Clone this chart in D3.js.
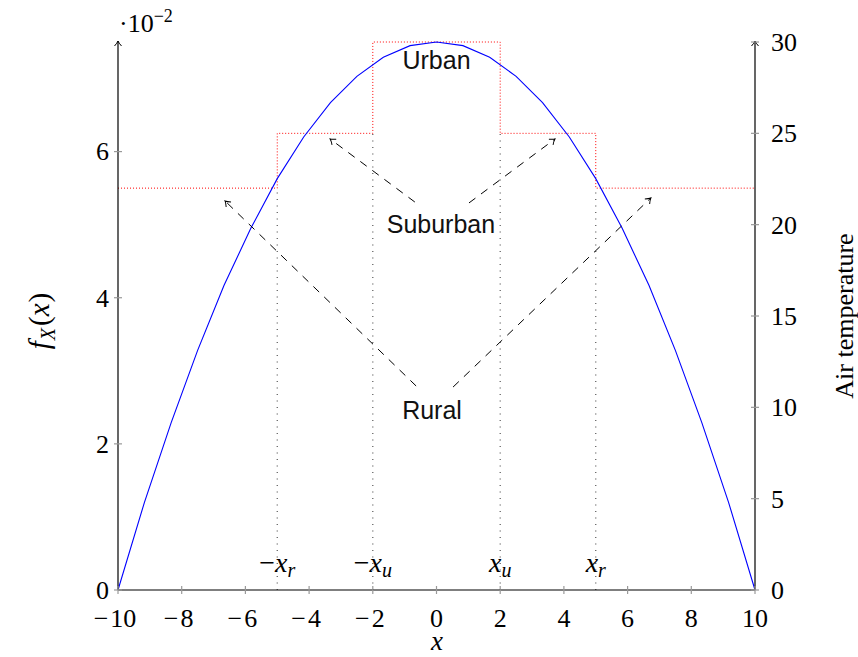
<!DOCTYPE html>
<html lang="en">
  <head>
    <meta charset="utf-8"/>
    <title>Density and air temperature</title>
    <script src="https://cdn.jsdelivr.net/npm/d3@7"></script>
    <style>
      body { margin: 0; background: #fff; }
      .serif { font-family: "Liberation Serif", "DejaVu Serif", serif; }
      .sans { font-family: "Liberation Sans", "DejaVu Sans", sans-serif; }
    </style>
  </head>
  <body>
    <div id="chart"></div>
    <script type="text/javascript">

      // density curve samples (x, f_X(x) in units of 10^-2)
      var curveX = [-10, -9.17, -8.33, -7.5, -6.67, -5.83, -5, -4.17, -3.33, -2.5, -1.67, -0.83, 0,
                    0.83, 1.67, 2.5, 3.33, 4.17, 5, 5.83, 6.67, 7.5, 8.33, 9.17, 10];
      var curveF = [0, 1.2, 2.29, 3.28, 4.17, 4.95, 5.63, 6.2, 6.67, 7.03, 7.29, 7.45, 7.5,
                    7.45, 7.29, 7.03, 6.67, 6.2, 5.63, 4.95, 4.17, 3.28, 2.29, 1.2, 0];

      // air temperature steps
      var stepX = [-10, -5, -2, 2, 5, 10];
      var stepT = [22, 25, 30, 25, 22];

      // boundary markers
      var markerX = [-5, -2, 2, 5];
      var markerTop = [22, 25, 25, 22];
      var markerSign = ["\u2212", "\u2212", "", ""];
      var markerSub = ["r", "u", "u", "r"];

      // ticks
      var xTicks = [-10, -8, -6, -4, -2, 0, 2, 4, 6, 8, 10];
      var fTicks = [0, 2, 4, 6];
      var tTicks = [0, 5, 10, 15, 20, 25, 30];

      // region labels (x, temperature)
      var regionNames = ["Urban", "Suburban", "Rural"];
      var regionX = [0, 0.14, -0.14];
      var regionT = [29, 20.05, 9.85];

      // arrows from labels (x, temperature)
      var arrowX1 = [-0.68, 1.02, -0.64, 0.52];
      var arrowT1 = [21.24, 21.19, 11.17, 11.11];
      var arrowX2 = [-3.34, 3.72, -6.64, 6.73];
      var arrowT2 = [24.69, 24.69, 21.3, 21.46];

      var width = 858, height = 657;
      // plot box (note: "top" is reserved on window, so use other names)
      var plotL = 118, plotR = 755, plotT = 42, plotB = 590;

      var svg = d3.select("#chart")
        .append("svg")
        .attr("width", width)
        .attr("height", height)
      ;

      var x = d3.scaleLinear().domain([-10, 10]).range([plotL, plotR]);
      var yF = d3.scaleLinear().domain([0, 7.5]).range([plotB, plotT]);
      var yT = d3.scaleLinear().domain([0, 30]).range([plotB, plotT]);

      var defs = svg.append("defs");
      defs.append("marker")
        .attr("id", "open")
        .attr("viewBox", "-8 -5 10 10")
        .attr("refX", 0)
        .attr("refY", 0)
        .attr("markerWidth", 10)
        .attr("markerHeight", 10)
        .attr("markerUnits", "userSpaceOnUse")
        .attr("orient", "auto")
        .append("path")
        .attr("d", "M-5,-3.5 Q-2,-0.8 0,0 Q-2,0.8 -5,3.5")
        .attr("fill", "none")
        .attr("stroke", "#000")
        .attr("stroke-width", 1)
        .attr("stroke-dasharray", "none")
      ;

      // vertical dotted markers
      svg.selectAll(".marker")
        .data(markerX)
        .enter()
        .append("line")
        .attr("x1", function(d) { return x(d); })
        .attr("x2", function(d) { return x(d); })
        .attr("y1", yT(0))
        .attr("y2", function(d, i) { return yT(markerTop[i]); })
        .attr("stroke", "#555")
        .attr("stroke-width", 1.2)
        .attr("stroke-dasharray", "1,5.5")
      ;

      // temperature step line
      var stepPts = [];
      stepT.forEach(function(t, i) {
        stepPts.push([stepX[i], t]);
        stepPts.push([stepX[i + 1], t]);
      });
      svg.append("path")
        .attr("d", d3.line().x(function(d) { return x(d[0]); }).y(function(d) { return yT(d[1]); })(stepPts))
        .attr("fill", "none")
        .attr("stroke", "#f00")
        .attr("stroke-width", 1)
        .attr("stroke-dasharray", "1,2")
      ;

      // density curve
      svg.append("path")
        .attr("d", d3.line()
          .x(function(d, i) { return x(curveX[i]); })
          .y(function(d) { return yF(d); })(curveF))
        .attr("fill", "none")
        .attr("stroke", "#00f")
        .attr("stroke-width", 1.1)
      ;

      // arrows
      svg.selectAll(".arrow")
        .data(arrowX1)
        .enter()
        .append("line")
        .attr("x1", function(d) { return x(d); })
        .attr("y1", function(d, i) { return yT(arrowT1[i]); })
        .attr("x2", function(d, i) { return x(arrowX2[i]); })
        .attr("y2", function(d, i) { return yT(arrowT2[i]); })
        .attr("stroke", "#000")
        .attr("stroke-width", 1)
        .attr("stroke-dasharray", "8,7")
        .attr("marker-end", "url(#open)")
      ;

      // region labels
      svg.selectAll(".region")
        .data(regionNames)
        .enter()
        .append("text")
        .attr("class", "sans")
        .attr("x", function(d, i) { return x(regionX[i]); })
        .attr("y", function(d, i) { return yT(regionT[i]); })
        .attr("dy", "0.36em")
        .attr("text-anchor", "middle")
        .attr("font-size", 25)
        .attr("fill", "#111")
        .text(function(d) { return d; })
      ;

      // marker labels
      var mLabels = svg.selectAll(".mlabel")
        .data(markerX)
        .enter()
        .append("text")
        .attr("class", "serif")
        .attr("x", function(d) { return x(d); })
        .attr("y", 572)
        .attr("text-anchor", "middle")
        .attr("font-size", 28)
      ;
      mLabels.append("tspan").text(function(d, i) { return markerSign[i]; });
      mLabels.append("tspan").attr("font-style", "italic").text("x");
      mLabels.append("tspan").attr("font-style", "italic").attr("font-size", 20).attr("dy", 5)
        .text(function(d, i) { return markerSub[i]; });

      // axis lines
      var axes = svg.append("g").attr("stroke", "#000").attr("stroke-width", 1.2);
      axes.append("line").attr("x1", plotL).attr("x2", plotR).attr("y1", plotB).attr("y2", plotB);
      axes.append("line").attr("x1", plotL).attr("x2", plotL).attr("y1", plotB).attr("y2", plotT - 1)
        .attr("marker-end", "url(#open)");
      axes.append("line").attr("x1", plotR).attr("x2", plotR).attr("y1", plotB).attr("y2", plotT - 1)
        .attr("marker-end", "url(#open)");

      // ticks
      var ticks = svg.append("g").attr("stroke", "#999").attr("stroke-width", 1.2);
      ticks.selectAll(".xt").data(xTicks).enter().append("line")
        .attr("x1", function(d) { return x(d); }).attr("x2", function(d) { return x(d); })
        .attr("y1", plotB - 4).attr("y2", plotB + 4);
      ticks.selectAll(".ft").data(fTicks).enter().append("line")
        .attr("x1", plotL - 4).attr("x2", plotL + 4)
        .attr("y1", function(d) { return yF(d); }).attr("y2", function(d) { return yF(d); });
      ticks.selectAll(".tt").data(tTicks).enter().append("line")
        .attr("x1", plotR - 4).attr("x2", plotR + 4)
        .attr("y1", function(d) { return yT(d); }).attr("y2", function(d) { return yT(d); });

      // tick labels
      function signed(sel, v) {
        if (v < 0) {
          sel.append("tspan").text("\u2212");
          sel.append("tspan").attr("dx", 2).text(Math.abs(v));
        } else {
          sel.append("tspan").text(v);
        }
      }
      svg.selectAll(".xl").data(xTicks).enter().append("text")
        .attr("class", "serif")
        .attr("x", function(d) { return x(d) + (d < 0 ? -3 : 0); })
        .attr("y", 627)
        .attr("text-anchor", "middle")
        .attr("font-size", 26)
        .each(function(d) { signed(d3.select(this), d); })
      ;
      svg.selectAll(".fl").data(fTicks).enter().append("text")
        .attr("class", "serif")
        .attr("x", 109)
        .attr("y", function(d) { return yF(d); })
        .attr("dy", "0.34em")
        .attr("text-anchor", "end")
        .attr("font-size", 26)
        .text(function(d) { return d; })
      ;
      svg.selectAll(".tl").data(tTicks).enter().append("text")
        .attr("class", "serif")
        .attr("x", 771)
        .attr("y", function(d) { return yT(d); })
        .attr("dy", "0.34em")
        .attr("text-anchor", "start")
        .attr("font-size", 26)
        .text(function(d) { return d; })
      ;

      // scale note
      var note = svg.append("text")
        .attr("class", "serif")
        .attr("x", 119)
        .attr("y", 32)
        .attr("font-size", 26)
      ;
      note.append("tspan").text("\u00b710");
      note.append("tspan").attr("font-size", 18).attr("dy", -10).text("\u22122");

      // axis titles
      svg.append("text")
        .attr("class", "serif")
        .attr("x", 437)
        .attr("y", 650)
        .attr("text-anchor", "middle")
        .attr("font-size", 27)
        .attr("font-style", "italic")
        .text("x")
      ;
      var fl = svg.append("text")
        .attr("class", "serif")
        .attr("transform", "translate(49,321) rotate(-90)")
        .attr("text-anchor", "middle")
        .attr("font-size", 29)
      ;
      fl.append("tspan").attr("font-style", "italic").text("f");
      fl.append("tspan").attr("font-style", "italic").attr("font-size", 20).attr("dx", 1).attr("dy", 6).text("X");
      fl.append("tspan").attr("dx", 2).attr("dy", -6).text("(");
      fl.append("tspan").attr("font-style", "italic").text("x");
      fl.append("tspan").attr("dx", 1).text(")");

      svg.append("text")
        .attr("class", "serif")
        .attr("transform", "translate(853,316) rotate(-90)")
        .attr("text-anchor", "middle")
        .attr("font-size", 26)
        .text("Air temperature")
      ;
    </script>
  </body>
</html>
